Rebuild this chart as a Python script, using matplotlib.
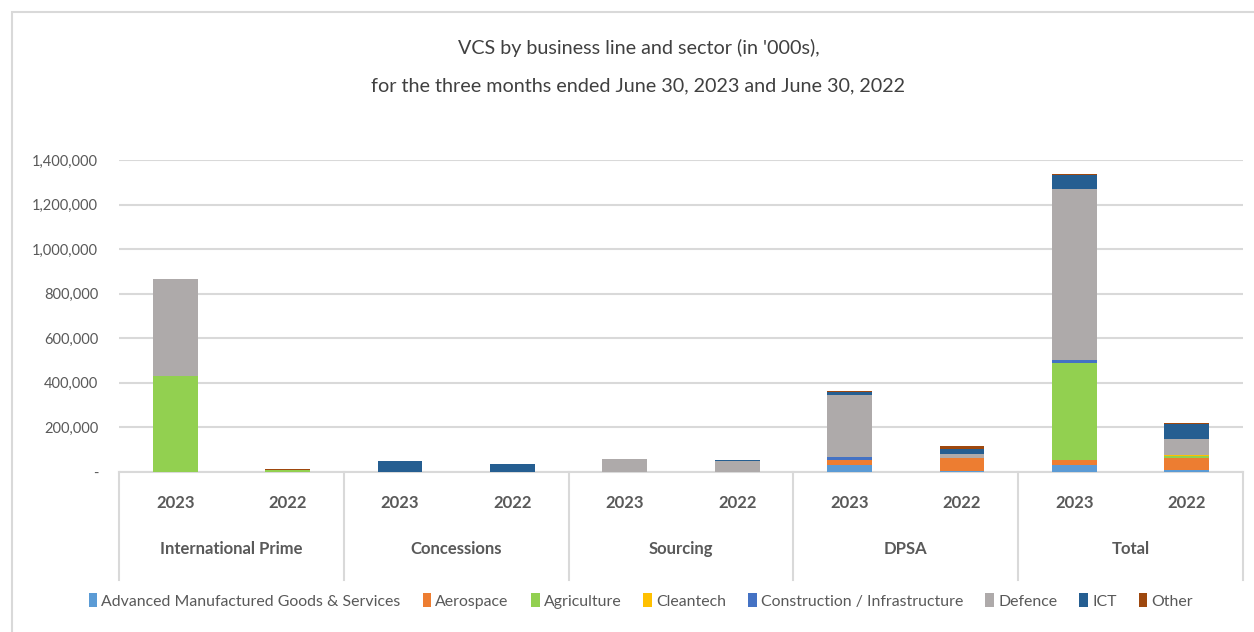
import matplotlib.pyplot as plt
import matplotlib.transforms as mtransforms
from matplotlib.patches import Rectangle
from matplotlib.ticker import FuncFormatter

plt.rcParams['font.family'] = ['Lato', 'DejaVu Sans']

# business lines and years (two-level x axis)
groups = ['International Prime', 'Concessions', 'Sourcing', 'DPSA', 'Total']
years = ['2023', '2022']

# VCS by sector, in '000s, order: IP23, IP22, Con23, Con22, Src23, Src22, DPSA23, DPSA22, Tot23, Tot22
amgs = [0, 0, 0, 0, 0, 0, 33000, 6000, 32000, 7000]
aerospace = [0, 0, 0, 0, 0, 0, 21000, 55000, 22000, 57000]
agriculture = [432000, 8000, 0, 0, 0, 0, 0, 0, 434000, 9000]
cleantech = [0, 2000, 0, 0, 0, 0, 1000, 1000, 2000, 2000]
construction = [0, 0, 0, 0, 0, 0, 13000, 3000, 13000, 3000]
defence = [432000, 0, 0, 0, 60000, 50000, 276000, 18000, 768000, 68000]
ict = [4000, 0, 48000, 38000, 0, 5000, 15000, 22000, 62000, 70000]
other = [0, 4000, 0, 0, 0, 0, 4000, 12000, 4000, 6000]

sectors = ['Advanced Manufactured Goods & Services', 'Aerospace', 'Agriculture', 'Cleantech',
           'Construction / Infrastructure', 'Defence', 'ICT', 'Other']
series = [amgs, aerospace, agriculture, cleantech, construction, defence, ict, other]
colors = ['#5B9BD5', '#ED7D31', '#92D050', '#FFC000', '#4472C4', '#AEAAAA', '#255E91', '#9E480E']

txt = '#595959'
grid = '#D9D9D9'

fig = plt.figure(figsize=(12.54, 6.32), dpi=100)
ax = fig.add_axes([119 / 1254, 1 - 472 / 632, 1124 / 1254, 312 / 632])

x = list(range(len(amgs)))
bottom = [0] * len(x)
for name, vals, col in zip(sectors, series, colors):
    ax.bar(x, vals, width=0.4, bottom=bottom, color=col, label=name, zorder=3)
    bottom = [b + v for b, v in zip(bottom, vals)]

ax.set_xlim(-0.5, 9.5)
ax.set_ylim(0, 1400000)
ax.set_yticks(range(0, 1400001, 200000))
ax.yaxis.set_major_formatter(FuncFormatter(lambda v, p: '-' if v == 0 else f'{int(v):,}'))
ax.tick_params(axis='y', length=0, pad=15, labelsize=10.5, labelcolor=txt)
ax.grid(axis='y', color=grid, linewidth=1.5, zorder=0)
for s in ['top', 'right', 'left']:
    ax.spines[s].set_visible(False)
ax.spines['bottom'].set_color(grid)
ax.spines['bottom'].set_linewidth(1.5)

# two-level category axis
ax.set_xticks([])
trans = mtransforms.blended_transform_factory(ax.transData, ax.transAxes)
for i in x:
    ax.text(i, -0.099, years[i % 2], transform=trans, ha='center', va='center',
            fontsize=12, fontweight='bold', color=txt)
for g, name in enumerate(groups):
    ax.text(2 * g + 0.5, -0.247, name, transform=trans, ha='center', va='center',
            fontsize=12, fontweight='bold', color=txt)
for b in [-0.5, 1.5, 3.5, 5.5, 7.5, 9.5]:
    ax.plot([b, b], [0, -0.346], transform=trans, color=grid, linewidth=1.5, clip_on=False)

# title, two lines
fig.text(639 / 1254, 1 - 48 / 632, "VCS by business line and sector (in '000s),",
         ha='center', va='center', fontsize=14.2, color='#404040')
fig.text(638 / 1254, 1 - 86 / 632, "for the three months ended June 30, 2023 and June 30, 2022",
         ha='center', va='center', fontsize=14.2, color='#404040')

fig.legend(loc='center', bbox_to_anchor=(0.511, 1 - 601 / 632), ncol=8, frameon=False,
           fontsize=11.4, labelcolor=txt, handlelength=0.55, handleheight=0.9,
           handletextpad=0.25, columnspacing=1.4)

# chart area border
fig.patches.append(Rectangle((12 / 1254, -0.1), 1.2, 1 - 12 / 632 + 0.1, transform=fig.transFigure,
                             fill=False, edgecolor=grid, linewidth=1.5))

fig.savefig('out.png', dpi=100)
